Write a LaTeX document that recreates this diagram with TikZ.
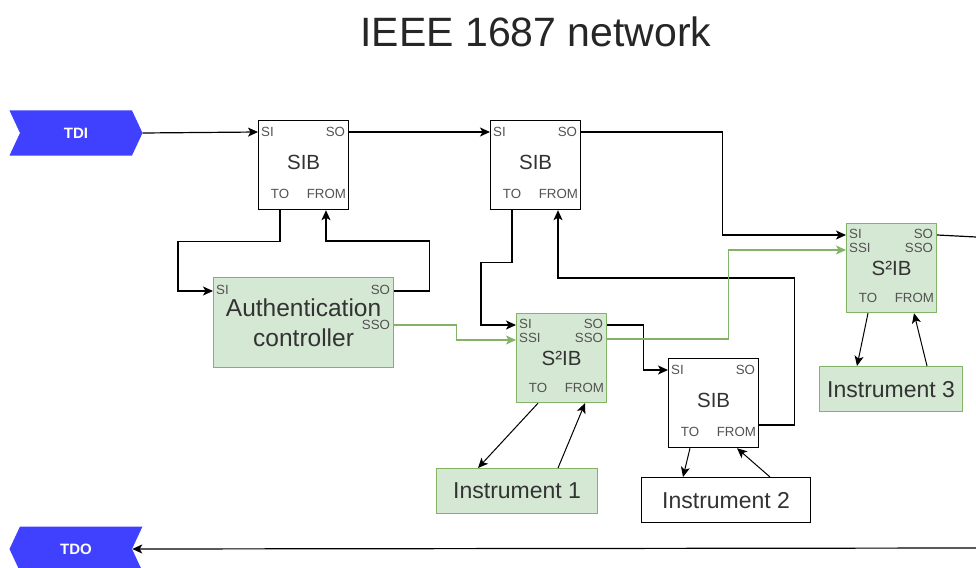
\documentclass[tikz,border=0pt]{standalone}
\usepackage{fontspec}
\setmainfont{Liberation Sans}
\usetikzlibrary{arrows.meta,shapes.symbols,calc}
\definecolor{gfill}{HTML}{D5E8D4}
\definecolor{gline}{HTML}{82B366}
\definecolor{blu}{HTML}{4040FF}
\definecolor{txt}{HTML}{333333}
\tikzset{
  box/.style={draw=black, line width=1.2pt, fill=white, minimum width=90pt, minimum height=89pt, inner sep=0pt, anchor=north west},
  gbox/.style={box, draw=gline, fill=gfill},
  port/.style={font=\fontsize{13.3}{13.3}\selectfont, text=txt!85, inner sep=0pt},
  blabel/.style={font=\fontsize{20.5}{20.5}\selectfont, text=txt, inner sep=0pt},
  instr/.style={draw=black, line width=1.2pt, fill=white, minimum height=45pt, inner sep=0pt, anchor=north west, font=\fontsize{23}{23}\selectfont, text=txt},
  ginstr/.style={instr, draw=gline, fill=gfill},
  tip/.style={-{Stealth[length=10pt,width=9pt,inset=2.5pt]}},
  wire/.style={line width=1.2pt, tip},
  gwire/.style={wire, draw=gline},
  twire/.style={line width=1pt, tip},
  sig/.style={signal, fill=blu, draw=none, minimum width=133pt, minimum height=45pt, signal pointer angle=130, text=white, font=\bfseries\fontsize{15}{15}\selectfont, inner sep=0pt}
}
\newcommand{\mkSIB}[3]{%
  \node[box] (#1) at (#2,#3) {};
  \node[port,anchor=west] (#1-si) at ($(#1.north west)+(3,12)$) {SI};
  \node[port,anchor=east] (#1-so) at ($(#1.north east)+(-4,12)$) {SO};
  \node[blabel] (#1-t) at ($(#1.north)+(0,42)$) {SIB};
  \node[port] (#1-to) at ($(#1.north west)+(22,74)$) {TO};
  \node[port,anchor=east] (#1-from) at ($(#1.north east)+(-3,74)$) {FROM};
  \coordinate (#1-pi) at ($(#1.north west)+(0,12)$);
  \coordinate (#1-po) at ($(#1.north east)+(0,12)$);
  \coordinate (#1-pto) at ($(#1.south west)+(22,0)$);
  \coordinate (#1-pfrom) at ($(#1.south west)+(68,0)$);
}
\newcommand{\mkSSIB}[3]{%
  \node[gbox] (#1) at (#2,#3) {};
  \node[port,anchor=west] (#1-si) at ($(#1.north west)+(3,11)$) {SI};
  \node[port,anchor=west] (#1-ssi) at ($(#1.north west)+(3,25)$) {SSI};
  \node[port,anchor=east] (#1-so) at ($(#1.north east)+(-4,11)$) {SO};
  \node[port,anchor=east] (#1-sso) at ($(#1.north east)+(-4,25)$) {SSO};
  \node[blabel] (#1-t) at ($(#1.north)+(0,45)$) {S²IB};
  \node[port] (#1-to) at ($(#1.north west)+(22,75)$) {TO};
  \node[port,anchor=east] (#1-from) at ($(#1.north east)+(-3,75)$) {FROM};
  \coordinate (#1-pi) at ($(#1.north west)+(0,12)$);
  \coordinate (#1-pssi) at ($(#1.north west)+(0,27)$);
  \coordinate (#1-po) at ($(#1.north east)+(0,12)$);
  \coordinate (#1-psso) at ($(#1.north east)+(0,26)$);
  \coordinate (#1-pto) at ($(#1.south west)+(22,0)$);
  \coordinate (#1-pfrom) at ($(#1.south west)+(68,0)$);
}
\begin{document}
\begin{tikzpicture}[x=1pt,y=-1pt]
\useasboundingbox (0,0) rectangle (976,567);
\clip (0,0) rectangle (976,567);
\fill[white] (0,0) rectangle (976,567);

% title
\node[text=black!85, font=\fontsize{41}{41}\selectfont, inner sep=0pt] (title) at (536,32) {IEEE 1687 network};

% terminals
\node[sig, signal to=east, signal from=west] (tdi) at (76,133) {TDI};
\node[sig, signal to=west, signal from=east] (tdo) at (76,549) {TDO};

% blocks
\mkSIB{sib1}{258}{120}
\mkSIB{sib2}{490}{120}
\mkSIB{sib3}{668}{358}
\mkSSIB{ssa}{516}{313}
\mkSSIB{ssb}{846}{223}

% authentication controller
\node[gbox, minimum width=180pt, minimum height=90pt, font=\fontsize{24.5}{30}\selectfont, text=txt, align=center] (auth) at (213,277) {Authentication\\controller};
\node[port,anchor=west] (auth-si) at ($(auth.north west)+(3,13)$) {SI};
\node[port,anchor=east] (auth-so) at ($(auth.north east)+(-4,13)$) {SO};
\node[port,anchor=east] (auth-sso) at ($(auth.north east)+(-4,48)$) {SSO};
\coordinate (auth-pi) at ($(auth.north west)+(0,14)$);
\coordinate (auth-po) at ($(auth.north east)+(0,14)$);
\coordinate (auth-psso) at ($(auth.north east)+(0,48)$);

% instruments
\node[ginstr, minimum width=161pt] (inst1) at (436,468) {Instrument 1};
\node[instr, minimum width=169pt] (inst2) at (641,477) {Instrument 2};
\node[ginstr, minimum width=143pt] (inst3) at (819,366) {Instrument 3};

% free ends at the right border
\coordinate (edgeA) at (976,237);
\coordinate (edgeB) at (976,548);
\coordinate (sib3-ret) at ($(sib3.north east)+(0,67)$);

% scan chain
\draw[wire] (tdi.east) -- (sib1-pi);
\draw[wire] (sib1-po) -- (sib2-pi);
\draw[wire] (sib2-po) -- ++(141,0) |- (ssb-pi);
\draw[wire] (sib1-pto) -- ++(0,31) -- ++(-102,0) |- (auth-pi);
\draw[wire] (auth-po) -- ++(35,0) -- ++(0,-50) -| (sib1-pfrom);
\draw[wire] (sib2-pto) -- ++(0,52) -- ++(-31,0) |- (ssa-pi);
\draw[wire] (ssa-po) -- ++(36,0) |- (sib3-pi);
\draw[wire] (sib3-ret) -- ++(35,0) -- ++(0,-147) -| (sib2-pfrom);
\draw[line width=1.2pt] (ssb-po) -- (edgeA);
\draw[wire] (edgeB) -- (tdo.east);

% secure chain
\draw[gwire] (auth-psso) -- ++(62,0) |- (ssa-pssi);
\draw[gwire] (ssa-psso) -- ++(121,0) |- (ssb-pssi);

% instrument links
\draw[twire] (ssa-pto) -- ($(inst1.north west)+(42,0)$) coordinate (i1a);
\draw[twire] ($(inst1.north west)+(122,0)$) coordinate (i1b) -- ($(ssa.south west)+(69,0)$);
\draw[twire] (sib3-pto) -- ($(inst2.north west)+(42,0)$) coordinate (i2a);
\draw[twire] ($(inst2.north west)+(129,0)$) coordinate (i2b) -- ($(sib3.south west)+(69,0)$);
\draw[twire] (ssb-pto) -- ($(inst3.north west)+(38,0)$) coordinate (i3a);
\draw[twire] ($(inst3.north west)+(108,0)$) coordinate (i3b) -- (ssb-pfrom);
\end{tikzpicture}
\end{document}
